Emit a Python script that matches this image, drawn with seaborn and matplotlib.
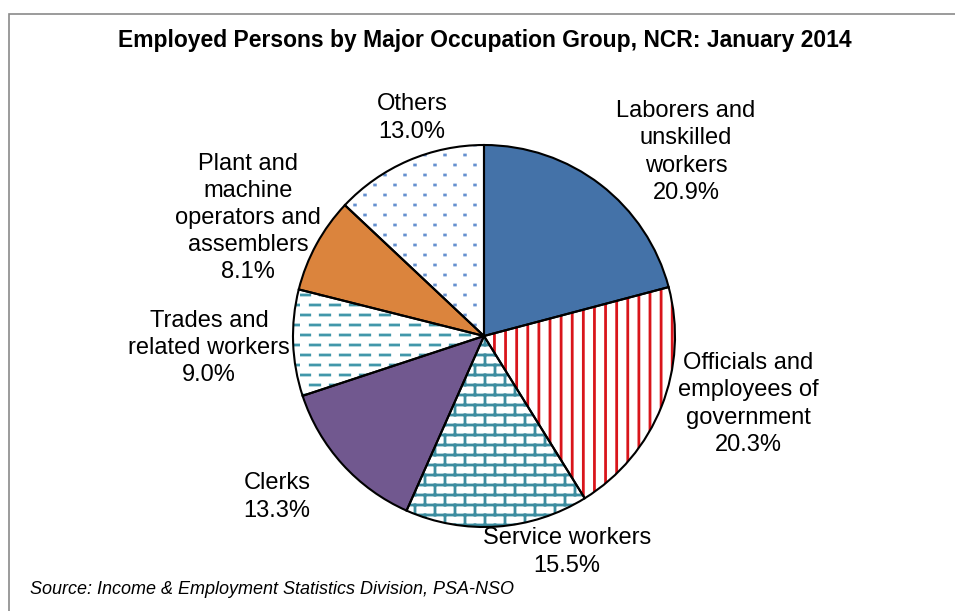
import warnings
import numpy as np
import matplotlib
matplotlib.use("Agg")
import matplotlib.pyplot as plt
import matplotlib.hatch as mhatch
from matplotlib.path import Path
import seaborn as sns

warnings.filterwarnings("ignore")

# ---------------- data ----------------
categories = [
    "Laborers and\nunskilled\nworkers",
    "Officials and\nemployees of\ngovernment",
    "Service workers",
    "Clerks",
    "Trades and\nrelated workers",
    "Plant and\nmachine\noperators and\nassemblers",
    "Others",
]
shares = [20.9, 20.3, 15.5, 13.3, 9.0, 8.1, 13.0]

title = "Employed Persons by Major Occupation Group, NCR: January 2014"
source = "Source: Income & Employment Statistics Division, PSA-NSO"

# ---------------- styles ----------------
fill_colors = ["#4472A8", "white", "white", "#71588F", "white", "#DB843D", "white"]
hatch_colors = ["#4472A8", "#D9151B", "#3C8DA0", "#71588F", "#4197AA", "#DB843D", "#6490CF"]
hatches = [None, "|", "+", None, "-", None, "."]
# label centres in image pixels (x, y from top)
label_xy = [(686, 152), (748, 404), (567, 552), (277, 497), (209, 348), (248, 218), (412, 118)]

W, H = 955, 611
CX, CY, R = 484, 336, 191


# ---------------- custom hatch patterns ----------------
def _segments_into(v, c, segs):
    arr = np.asarray(segs, dtype=float).reshape(-1, 2)
    v[:] = arr
    c[0::2] = Path.MOVETO
    c[1::2] = Path.LINETO


class VLines(mhatch.HatchPatternBase):
    n = 9

    def __init__(self, hatch, density):
        self.num = self.n * hatch.count("|")
        self.num_vertices = 2 * self.num

    def set_vertices_and_codes(self, v, c):
        xs = (np.arange(self.num) + 0.5) / self.num
        segs = [((x, 0.0), (x, 1.0)) for x in xs]
        _segments_into(v, c, segs)


class Bricks(mhatch.HatchPatternBase):
    rows, cols = 10, 5

    def __init__(self, hatch, density):
        self.segs = []
        if "+" in hatch:
            h = 1.0 / self.rows
            w = 1.0 / self.cols
            for i in range(self.rows):
                y = (i + 0.5) * h
                self.segs.append(((0.0, y), (1.0, y)))
            for i in range(self.rows + 1):
                y0, y1 = (i - 0.5) * h, (i + 0.5) * h
                off = w / 4 + (i % 2) * w / 2
                for j in range(self.cols):
                    x = j * w + off
                    self.segs.append(((x, y0), (x, y1)))
        self.num_vertices = 2 * len(self.segs)

    def set_vertices_and_codes(self, v, c):
        _segments_into(v, c, self.segs)


class Dashes(mhatch.HatchPatternBase):
    rows, cols = 10, 5

    def __init__(self, hatch, density):
        self.segs = []
        if "-" in hatch:
            p = 1.0 / self.cols
            ln = 0.095
            for i in range(self.rows):
                y = (i + 0.5) / self.rows
                off = 0.0025 + (i % 2) * p / 2
                for j in range(self.cols):
                    x = j * p + off
                    self.segs.append(((x, y), (x + ln, y)))
        self.num_vertices = 2 * len(self.segs)

    def set_vertices_and_codes(self, v, c):
        _segments_into(v, c, self.segs)


class Dots(mhatch.HatchPatternBase):
    rows, cols, half = 10, 5, 0.0035

    def __init__(self, hatch, density):
        self.segs = []
        if "." in hatch:
            for i in range(self.rows):
                y = (i + 0.5) / self.rows
                for j in range(self.cols):
                    x = j / self.cols + 0.05 + (i % 2) * 0.1
                    self.segs.append(((x - self.half, y), (x + self.half, y)))
        self.num_vertices = 2 * len(self.segs)

    def set_vertices_and_codes(self, v, c):
        _segments_into(v, c, self.segs)


mhatch._hatch_types = [VLines, Bricks, Dashes, Dots]

# ---------------- figure ----------------
sns.set_theme(style="white")
plt.rcParams["font.family"] = ["Liberation Sans", "DejaVu Sans"]
plt.rcParams["hatch.linewidth"] = 2.0

fig = plt.figure(figsize=(W / 100, H / 100), dpi=100)
fig.patch.set_facecolor("white")
ax = fig.add_axes([0, 0, 1, 1])

center = (CX, H - CY)
wedges, _ = ax.pie(shares, colors=fill_colors, startangle=90, counterclock=False,
                   center=center, radius=R, wedgeprops=dict(linewidth=0))
for w, hch, hc, fc in zip(wedges, hatches, hatch_colors, fill_colors):
    if hch:
        w.set_hatch(hch)
        w.set_edgecolor(hc)
    else:
        w.set_edgecolor(fc)
    w.set_linewidth(0)

ax.pie(shares, startangle=90, counterclock=False, center=center, radius=R,
       wedgeprops=dict(fill=False, edgecolor="black", linewidth=1.5))

ax.set_xlim(0, W)
ax.set_ylim(0, H)
ax.set_aspect("auto")
ax.axis("off")

for cat, pct, (lx, ly) in zip(categories, shares, label_xy):
    ax.text(lx, H - ly, f"{cat}\n{pct:.1f}%", ha="center", va="center",
            fontsize=17, color="black", linespacing=1.3)

# chart frame
ax.plot([9, 9, W + 5], [-5, H - 14, H - 14], color="#8a8a8a", lw=1.2,
        clip_on=False, solid_joinstyle="miter")

fig.text(485 / W, 1 - 41 / H, title, ha="center", va="center",
         fontsize=16.5, fontweight="bold", color="black")
fig.text(30 / W, 1 - 590 / H, source, ha="left", va="center",
         fontsize=13, fontstyle="italic", color="black")

fig.savefig("out.png", dpi=100)
